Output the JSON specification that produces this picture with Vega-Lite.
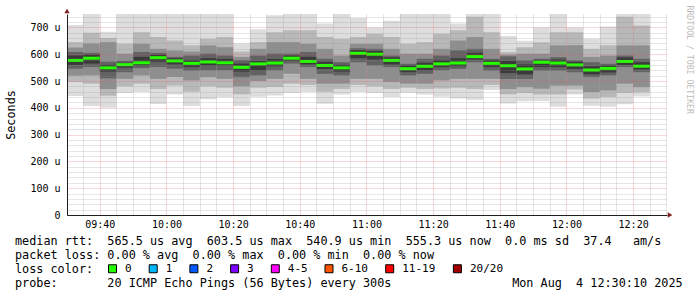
{
  "$schema": "https://vega.github.io/schema/vega-lite/v6.json",
  "width": 600,
  "height": 201,
  "autosize": {"type": "none"},
  "padding": {"left": 67, "top": 14, "right": 30, "bottom": 82},
  "background": "#ffffff",
  "config": {"view": {"stroke": null}},
  "datasets": {
    "bars": [
      {"t":"2025-08-04T09:30:00","t2":"2025-08-04T09:35:00","mn":444,"lo2":496,"lo3":520,"lo4":546,"lo5":560,"med":577,"hi5":595,"hi4":608,"hi3":625,"hi2":645,"mx":709,"loss":"0"},
      {"t":"2025-08-04T09:35:00","t2":"2025-08-04T09:40:00","mn":407,"lo2":490,"lo3":521,"lo4":552,"lo5":565,"med":585,"hi5":598,"hi4":605,"hi3":640,"hi2":680,"mx":750,"loss":"0"},
      {"t":"2025-08-04T09:40:00","t2":"2025-08-04T09:45:00","mn":400,"lo2":445,"lo3":470,"lo4":510,"lo5":535,"med":549,"hi5":560,"hi4":572,"hi3":645,"hi2":660,"mx":684,"loss":"0"},
      {"t":"2025-08-04T09:45:00","t2":"2025-08-04T09:50:00","mn":455,"lo2":480,"lo3":508,"lo4":533,"lo5":550,"med":561,"hi5":568,"hi4":575,"hi3":602,"hi2":639,"mx":750,"loss":"0"},
      {"t":"2025-08-04T09:50:00","t2":"2025-08-04T09:55:00","mn":459,"lo2":490,"lo3":521,"lo4":548,"lo5":558,"med":568,"hi5":590,"hi4":608,"hi3":639,"hi2":682,"mx":750,"loss":"0"},
      {"t":"2025-08-04T09:55:00","t2":"2025-08-04T10:00:00","mn":414,"lo2":470,"lo3":508,"lo4":552,"lo5":572,"med":587,"hi5":598,"hi4":605,"hi3":620,"hi2":664,"mx":750,"loss":"0"},
      {"t":"2025-08-04T10:00:00","t2":"2025-08-04T10:05:00","mn":450,"lo2":483,"lo3":515,"lo4":546,"lo5":562,"med":575,"hi5":585,"hi4":590,"hi3":614,"hi2":651,"mx":750,"loss":"0"},
      {"t":"2025-08-04T10:05:00","t2":"2025-08-04T10:10:00","mn":407,"lo2":460,"lo3":502,"lo4":539,"lo5":552,"med":566,"hi5":578,"hi4":595,"hi3":610,"hi2":633,"mx":750,"loss":"0"},
      {"t":"2025-08-04T10:10:00","t2":"2025-08-04T10:15:00","mn":432,"lo2":480,"lo3":514,"lo4":540,"lo5":558,"med":571,"hi5":585,"hi4":602,"hi3":633,"hi2":657,"mx":750,"loss":"0"},
      {"t":"2025-08-04T10:15:00","t2":"2025-08-04T10:20:00","mn":439,"lo2":475,"lo3":508,"lo4":540,"lo5":558,"med":568,"hi5":582,"hi4":595,"hi3":626,"hi2":664,"mx":750,"loss":"0"},
      {"t":"2025-08-04T10:20:00","t2":"2025-08-04T10:25:00","mn":407,"lo2":450,"lo3":480,"lo4":514,"lo5":535,"med":551,"hi5":565,"hi4":578,"hi3":590,"hi2":610,"mx":640,"loss":"0"},
      {"t":"2025-08-04T10:25:00","t2":"2025-08-04T10:30:00","mn":441,"lo2":475,"lo3":500,"lo4":521,"lo5":540,"med":564,"hi5":575,"hi4":595,"hi3":620,"hi2":645,"mx":693,"loss":"0"},
      {"t":"2025-08-04T10:30:00","t2":"2025-08-04T10:35:00","mn":446,"lo2":478,"lo3":508,"lo4":540,"lo5":555,"med":567,"hi5":582,"hi4":602,"hi3":645,"hi2":682,"mx":745,"loss":"0"},
      {"t":"2025-08-04T10:35:00","t2":"2025-08-04T10:40:00","mn":455,"lo2":490,"lo3":527,"lo4":565,"lo5":575,"med":585,"hi5":595,"hi4":602,"hi3":645,"hi2":689,"mx":750,"loss":"0"},
      {"t":"2025-08-04T10:40:00","t2":"2025-08-04T10:45:00","mn":459,"lo2":485,"lo3":508,"lo4":552,"lo5":562,"med":573,"hi5":590,"hi4":608,"hi3":639,"hi2":689,"mx":750,"loss":"0"},
      {"t":"2025-08-04T10:45:00","t2":"2025-08-04T10:50:00","mn":415,"lo2":460,"lo3":490,"lo4":527,"lo5":545,"med":558,"hi5":572,"hi4":583,"hi3":620,"hi2":664,"mx":715,"loss":"0"},
      {"t":"2025-08-04T10:50:00","t2":"2025-08-04T10:55:00","mn":450,"lo2":470,"lo3":490,"lo4":521,"lo5":535,"med":549,"hi5":560,"hi4":570,"hi3":595,"hi2":657,"mx":750,"loss":"0"},
      {"t":"2025-08-04T10:55:00","t2":"2025-08-04T11:00:00","mn":459,"lo2":485,"lo3":508,"lo4":570,"lo5":585,"med":603.5,"hi5":615,"hi4":622,"hi3":639,"hi2":664,"mx":735,"loss":"0"},
      {"t":"2025-08-04T11:00:00","t2":"2025-08-04T11:05:00","mn":455,"lo2":480,"lo3":508,"lo4":558,"lo5":580,"med":600,"hi5":612,"hi4":620,"hi3":639,"hi2":676,"mx":700,"loss":"0"},
      {"t":"2025-08-04T11:05:00","t2":"2025-08-04T11:10:00","mn":440,"lo2":470,"lo3":496,"lo4":552,"lo5":562,"med":577,"hi5":588,"hi4":595,"hi3":620,"hi2":664,"mx":725,"loss":"0"},
      {"t":"2025-08-04T11:10:00","t2":"2025-08-04T11:15:00","mn":456,"lo2":475,"lo3":490,"lo4":521,"lo5":533,"med":546,"hi5":558,"hi4":564,"hi3":602,"hi2":639,"mx":750,"loss":"0"},
      {"t":"2025-08-04T11:15:00","t2":"2025-08-04T11:20:00","mn":450,"lo2":470,"lo3":490,"lo4":527,"lo5":540,"med":555,"hi5":568,"hi4":583,"hi3":602,"hi2":645,"mx":750,"loss":"0"},
      {"t":"2025-08-04T11:20:00","t2":"2025-08-04T11:25:00","mn":441,"lo2":472,"lo3":502,"lo4":540,"lo5":552,"med":564,"hi5":578,"hi4":595,"hi3":620,"hi2":676,"mx":750,"loss":"0"},
      {"t":"2025-08-04T11:25:00","t2":"2025-08-04T11:30:00","mn":435,"lo2":475,"lo3":508,"lo4":545,"lo5":555,"med":567,"hi5":585,"hi4":614,"hi3":651,"hi2":689,"mx":715,"loss":"0"},
      {"t":"2025-08-04T11:30:00","t2":"2025-08-04T11:35:00","mn":430,"lo2":470,"lo3":508,"lo4":570,"lo5":580,"med":591,"hi5":605,"hi4":620,"hi3":664,"hi2":740,"mx":750,"loss":"0"},
      {"t":"2025-08-04T11:35:00","t2":"2025-08-04T11:40:00","mn":466,"lo2":485,"lo3":508,"lo4":539,"lo5":552,"med":566,"hi5":578,"hi4":583,"hi3":620,"hi2":682,"mx":750,"loss":"0"},
      {"t":"2025-08-04T11:40:00","t2":"2025-08-04T11:45:00","mn":416,"lo2":450,"lo3":470,"lo4":508,"lo5":530,"med":557,"hi5":575,"hi4":592,"hi3":598,"hi2":608,"mx":668,"loss":"0"},
      {"t":"2025-08-04T11:45:00","t2":"2025-08-04T11:50:00","mn":424,"lo2":455,"lo3":477,"lo4":508,"lo5":525,"med":545,"hi5":562,"hi4":577,"hi3":602,"hi2":626,"mx":650,"loss":"0"},
      {"t":"2025-08-04T11:50:00","t2":"2025-08-04T11:55:00","mn":425,"lo2":450,"lo3":471,"lo4":539,"lo5":552,"med":570,"hi5":578,"hi4":583,"hi3":602,"hi2":645,"mx":700,"loss":"0"},
      {"t":"2025-08-04T11:55:00","t2":"2025-08-04T12:00:00","mn":404,"lo2":450,"lo3":483,"lo4":539,"lo5":552,"med":567,"hi5":580,"hi4":589,"hi3":633,"hi2":682,"mx":750,"loss":"0"},
      {"t":"2025-08-04T12:00:00","t2":"2025-08-04T12:05:00","mn":450,"lo2":468,"lo3":483,"lo4":533,"lo5":545,"med":560,"hi5":572,"hi4":577,"hi3":633,"hi2":682,"mx":700,"loss":"0"},
      {"t":"2025-08-04T12:05:00","t2":"2025-08-04T12:10:00","mn":408,"lo2":435,"lo3":459,"lo4":514,"lo5":525,"med":540.9,"hi5":555,"hi4":570,"hi3":590,"hi2":620,"mx":658,"loss":"0"},
      {"t":"2025-08-04T12:10:00","t2":"2025-08-04T12:15:00","mn":404,"lo2":440,"lo3":465,"lo4":521,"lo5":532,"med":547,"hi5":558,"hi4":564,"hi3":595,"hi2":633,"mx":703,"loss":"0"},
      {"t":"2025-08-04T12:15:00","t2":"2025-08-04T12:20:00","mn":413,"lo2":455,"lo3":490,"lo4":552,"lo5":560,"med":573,"hi5":588,"hi4":595,"hi3":633,"hi2":740,"mx":750,"loss":"0"},
      {"t":"2025-08-04T12:20:00","t2":"2025-08-04T12:25:00","mn":442,"lo2":458,"lo3":477,"lo4":533,"lo5":543,"med":555.3,"hi5":570,"hi4":583,"hi3":633,"hi2":707,"mx":750,"loss":"0"}
    ]
  },
  "data": {"name": "bars"},
  "encoding": {
    "x": {
      "field": "t",
      "type": "temporal",
      "scale": {"domain": [{"year": 2025, "month": 8, "date": 4, "hours": 9, "minutes": 30, "seconds": 10}, {"year": 2025, "month": 8, "date": 4, "hours": 12, "minutes": 30, "seconds": 10}]},
      "axis": {
        "title": [
          "median\u00a0rtt:\u00a0\u00a0565.5\u00a0us\u00a0avg\u00a0\u00a0603.5\u00a0us\u00a0max\u00a0\u00a0540.9\u00a0us\u00a0min\u00a0\u00a0555.3\u00a0us\u00a0now\u00a0\u00a00.0\u00a0ms\u00a0sd\u00a0\u00a037.4\u00a0\u00a0\u00a0am/s",
          "packet\u00a0loss:\u00a00.00\u00a0%\u00a0avg\u00a0\u00a00.00\u00a0%\u00a0max\u00a0\u00a00.00\u00a0%\u00a0min\u00a0\u00a00.00\u00a0%\u00a0now",
          "loss\u00a0color:",
          "probe:\u00a0\u00a0\u00a0\u00a0\u00a0\u00a0\u00a020\u00a0ICMP\u00a0Echo\u00a0Pings\u00a0(56\u00a0Bytes)\u00a0every\u00a0300s\u00a0\u00a0\u00a0\u00a0\u00a0\u00a0\u00a0\u00a0\u00a0\u00a0\u00a0\u00a0\u00a0\u00a0\u00a0\u00a0\u00a0Mon\u00a0Aug\u00a0\u00a04\u00a012:30:10\u00a02025"
        ],
        "titleFont": "DejaVu Sans Mono",
        "titleFontSize": 11.8,
        "titleFontWeight": "normal",
        "titleColor": "#000000",
        "titleAlign": "left",
        "titleBaseline": "top",
        "titleX": -52.5,
        "titleY": 20.5,
        "titleLineHeight": 14,
        "values": [
          {"year": 2025, "month": 8, "date": 4, "hours": 9, "minutes": 35},
          {"year": 2025, "month": 8, "date": 4, "hours": 9, "minutes": 40},
          {"year": 2025, "month": 8, "date": 4, "hours": 9, "minutes": 45},
          {"year": 2025, "month": 8, "date": 4, "hours": 9, "minutes": 50},
          {"year": 2025, "month": 8, "date": 4, "hours": 9, "minutes": 55},
          {"year": 2025, "month": 8, "date": 4, "hours": 10, "minutes": 0},
          {"year": 2025, "month": 8, "date": 4, "hours": 10, "minutes": 5},
          {"year": 2025, "month": 8, "date": 4, "hours": 10, "minutes": 10},
          {"year": 2025, "month": 8, "date": 4, "hours": 10, "minutes": 15},
          {"year": 2025, "month": 8, "date": 4, "hours": 10, "minutes": 20},
          {"year": 2025, "month": 8, "date": 4, "hours": 10, "minutes": 25},
          {"year": 2025, "month": 8, "date": 4, "hours": 10, "minutes": 30},
          {"year": 2025, "month": 8, "date": 4, "hours": 10, "minutes": 35},
          {"year": 2025, "month": 8, "date": 4, "hours": 10, "minutes": 40},
          {"year": 2025, "month": 8, "date": 4, "hours": 10, "minutes": 45},
          {"year": 2025, "month": 8, "date": 4, "hours": 10, "minutes": 50},
          {"year": 2025, "month": 8, "date": 4, "hours": 10, "minutes": 55},
          {"year": 2025, "month": 8, "date": 4, "hours": 11, "minutes": 0},
          {"year": 2025, "month": 8, "date": 4, "hours": 11, "minutes": 5},
          {"year": 2025, "month": 8, "date": 4, "hours": 11, "minutes": 10},
          {"year": 2025, "month": 8, "date": 4, "hours": 11, "minutes": 15},
          {"year": 2025, "month": 8, "date": 4, "hours": 11, "minutes": 20},
          {"year": 2025, "month": 8, "date": 4, "hours": 11, "minutes": 25},
          {"year": 2025, "month": 8, "date": 4, "hours": 11, "minutes": 30},
          {"year": 2025, "month": 8, "date": 4, "hours": 11, "minutes": 35},
          {"year": 2025, "month": 8, "date": 4, "hours": 11, "minutes": 40},
          {"year": 2025, "month": 8, "date": 4, "hours": 11, "minutes": 45},
          {"year": 2025, "month": 8, "date": 4, "hours": 11, "minutes": 50},
          {"year": 2025, "month": 8, "date": 4, "hours": 11, "minutes": 55},
          {"year": 2025, "month": 8, "date": 4, "hours": 12, "minutes": 0},
          {"year": 2025, "month": 8, "date": 4, "hours": 12, "minutes": 5},
          {"year": 2025, "month": 8, "date": 4, "hours": 12, "minutes": 10},
          {"year": 2025, "month": 8, "date": 4, "hours": 12, "minutes": 15},
          {"year": 2025, "month": 8, "date": 4, "hours": 12, "minutes": 20},
          {"year": 2025, "month": 8, "date": 4, "hours": 12, "minutes": 25},
          {"year": 2025, "month": 8, "date": 4, "hours": 12, "minutes": 30}
        ],
        "labelExpr": "minutes(datum.value) % 20 == 0 ? timeFormat(datum.value, '%H:%M') : ''",
        "labelFont": "DejaVu Sans Mono",
        "labelFontSize": 10,
        "labelColor": "#000000",
        "labelPadding": 4,
        "labelOverlap": false,
        "labelFlush": false,
        "ticks": false,
        "domainColor": "#1f1f1f",
        "grid": true,
        "gridColor": {"condition": {"test": "minutes(datum.value) % 20 == 0", "value": "#de4f4f"}, "value": "#8f8f8f"},
        "gridOpacity": 0.45,
        "gridDash": [1, 1],
        "zindex": 1
      }
    }
  },
  "resolve": {"axis": {"y": "independent"}},
  "layer": [
    {
      "mark": {"type": "rect", "color": "#dddddd", "clip": true},
      "encoding": {
        "x2": {"field": "t2"},
        "y": {
          "field": "mn",
          "type": "quantitative",
          "scale": {"domain": [0, 750], "nice": false},
          "axis": {
            "title": "Seconds",
            "titleFont": "DejaVu Sans Mono",
            "titleFontSize": 11.8,
            "titleFontWeight": "normal",
            "titleColor": "#000000",
            "titlePadding": 13,
            "values": [0, 20, 40, 60, 80, 100, 120, 140, 160, 180, 200, 220, 240, 260, 280, 300, 320, 340, 360, 380, 400, 420, 440, 460, 480, 500, 520, 540, 560, 580, 600, 620, 640, 660, 680, 700, 720, 740],
            "labelExpr": "datum.value % 100 == 0 ? (datum.value == 0 ? '0\u00a0\u00a0' : datum.value + '\u00a0u') : ''",
            "labelFont": "DejaVu Sans Mono",
            "labelFontSize": 10,
            "labelColor": "#000000",
            "labelPadding": 7,
            "labelOverlap": false,
            "ticks": false,
            "domainColor": "#1f1f1f",
            "grid": true,
            "gridColor": {"condition": {"test": "datum.value % 100 == 0 && datum.value > 0", "value": "#de4f4f"}, "value": "#8f8f8f"},
            "gridOpacity": 0.45,
            "gridDash": [1, 1],
            "zindex": 1
          }
        },
        "y2": {"field": "mx"}
      }
    },
    {
      "mark": {"type": "rect", "color": "#b8b8b8", "clip": true},
      "encoding": {
        "x2": {"field": "t2"},
        "y": {"field": "lo2", "type": "quantitative", "scale": {"domain": [0, 750], "nice": false}, "axis": null},
        "y2": {"field": "hi2"}
      }
    },
    {
      "mark": {"type": "rect", "color": "#8e8e8e", "clip": true},
      "encoding": {
        "x2": {"field": "t2"},
        "y": {"field": "lo3", "type": "quantitative", "scale": {"domain": [0, 750], "nice": false}, "axis": null},
        "y2": {"field": "hi3"}
      }
    },
    {
      "mark": {"type": "rect", "color": "#626262", "clip": true},
      "encoding": {
        "x2": {"field": "t2"},
        "y": {"field": "lo4", "type": "quantitative", "scale": {"domain": [0, 750], "nice": false}, "axis": null},
        "y2": {"field": "hi4"}
      }
    },
    {
      "mark": {"type": "rect", "color": "#3a3a3a", "clip": true},
      "encoding": {
        "x2": {"field": "t2"},
        "y": {"field": "lo5", "type": "quantitative", "scale": {"domain": [0, 750], "nice": false}, "axis": null},
        "y2": {"field": "hi5"}
      }
    },
    {
      "mark": {"type": "rule", "strokeWidth": 3, "clip": true, "color": "#26ff00"},
      "encoding": {
        "x2": {"field": "t2"},
        "y": {"field": "med", "type": "quantitative", "scale": {"domain": [0, 750], "nice": false}, "axis": null}
      }
    },
    {
      "mark": {"type": "square", "size": 0, "clip": true},
      "encoding": {
        "y": {"field": "med", "type": "quantitative", "scale": {"domain": [0, 750], "nice": false}, "axis": null},
        "fill": {
          "field": "loss",
          "type": "nominal",
          "scale": {
            "domain": ["0", "1", "2", "3", "4-5", "6-10", "11-19", "20/20"],
            "range": ["#26ff00", "#00b8ff", "#0059ff", "#7e00ff", "#ff00ff", "#ff5500", "#ff0000", "#a10000"]
          },
          "legend": {
            "orient": "none",
            "legendX": 40,
            "legendY": 249,
            "direction": "horizontal",
            "title": null,
            "padding": 0,
            "symbolType": "square",
            "symbolSize": 64,
            "symbolStrokeColor": "#000000",
            "symbolStrokeWidth": 1,
            "symbolOpacity": 1,
            "labelFont": "DejaVu Sans Mono",
            "labelFontSize": 11,
            "labelColor": "#000000",
            "labelOffset": 7,
            "columnPadding": 14.7
          }
        }
      }
    },
    {
      "data": {"values": [{"t": "2025-08-04T09:30:10", "v": 761}]},
      "mark": {"type": "point", "shape": "triangle-up", "filled": true, "color": "#801f1f", "size": 28, "opacity": 1},
      "encoding": {
        "y": {
          "field": "v",
          "type": "quantitative",
          "scale": {"domain": [0, 750], "nice": false},
          "axis": {
            "orient": "right",
            "title": "RRDTOOL\u00a0/\u00a0TOBI\u00a0OETIKER",
            "labels": false,
            "ticks": false,
            "domain": false,
            "grid": false,
            "titleAngle": 90,
            "titleFont": "DejaVu Sans Mono",
            "titleFontSize": 8.2,
            "titleFontWeight": "normal",
            "titleColor": "#bdbdbd",
            "titleAlign": "left",
            "titleBaseline": "middle",
            "titleX": 21,
            "titleY": -9
          }
        }
      }
    },
    {
      "data": {"values": [{"t": "2025-08-04T12:31:05", "v": 0}]},
      "mark": {"type": "point", "shape": "triangle-right", "filled": true, "color": "#801f1f", "size": 28, "opacity": 1},
      "encoding": {
        "y": {"field": "v", "type": "quantitative", "scale": {"domain": [0, 750], "nice": false}, "axis": null}
      }
    }
  ]
}
